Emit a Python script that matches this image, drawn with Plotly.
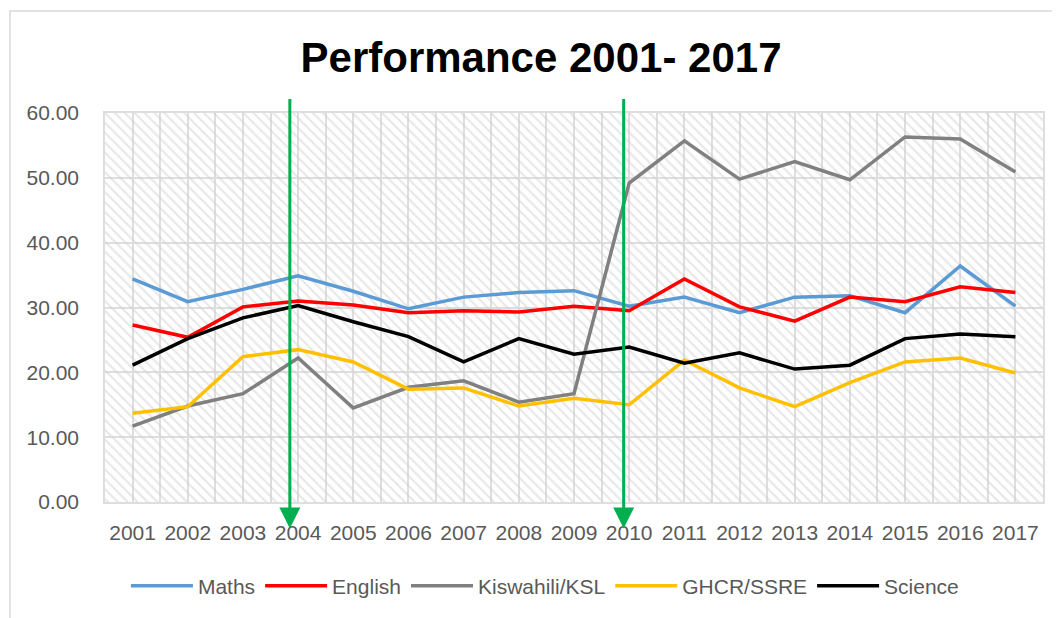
import plotly.graph_objects as go


YEARS = list(range(2001, 2018))

MATHS = [34.4, 30.9, 32.8, 34.9, 32.5, 29.8, 31.6, 32.3, 32.6, 30.2,
         31.6, 29.2, 31.6, 31.8, 29.2, 36.4, 30.2]
ENGLISH = [27.3, 25.4, 30.1, 31.0, 30.4, 29.2, 29.5, 29.3, 30.2, 29.5,
           34.4, 30.1, 27.9, 31.6, 30.9, 33.2, 32.3]
KISWAHILI = [11.7, 14.8, 16.7, 22.2, 14.5, 17.7, 18.7, 15.4, 16.7, 49.2,
             55.7, 49.8, 52.5, 49.7, 56.3, 56.0, 50.9]
GHCR = [13.7, 14.7, 22.4, 23.5, 21.6, 17.4, 17.6, 14.8, 16.0, 15.0,
        21.9, 17.6, 14.7, 18.4, 21.6, 22.2, 19.9]
SCIENCE = [21.1, 25.2, 28.4, 30.3, 27.8, 25.5, 21.6, 25.2, 22.8, 23.9,
           21.4, 23.0, 20.5, 21.1, 25.2, 25.9, 25.5]

SERIES = [
    ('Maths', MATHS, '#5B9BD5'),
    ('English', ENGLISH, '#FF0000'),
    ('Kiswahili/KSL', KISWAHILI, '#808080'),
    ('GHCR/SSRE', GHCR, '#FFC000'),
    ('Science', SCIENCE, '#000000'),
]

# the two green markers drawn over the chart
ARROW_YEARS = [2003.85, 2009.9]

Y_MAX = 60
FONT = 'Liberation Sans'
TEXT_COLOR = '#595959'
GRID = '#dedede'


fig = go.Figure()

# hatched plot-area background
fig.add_trace(go.Bar(
    x=YEARS, y=[Y_MAX] * len(YEARS), width=1,
    marker=dict(color='rgba(0,0,0,0)', line=dict(width=0),
                pattern=dict(shape='\\', fgcolor='#d0d0d0', size=7,
                             solidity=0.3, fillmode='overlay')),
    showlegend=False, hoverinfo='skip'
))

for name, values, color in SERIES:
    fig.add_trace(go.Scatter(x=YEARS, y=values, name=name, mode='lines',
                             line=dict(color=color, width=3.5)))

for xa in ARROW_YEARS:
    fig.add_annotation(x=xa, xref='x', y=-0.068, yref='paper',
                       ax=0, ay=-431, axref='pixel', ayref='pixel',
                       showarrow=True, arrowhead=2, arrowsize=1.4,
                       arrowwidth=3, arrowcolor='#00B050', text='')

# outer chart frame
fig.add_shape(type='rect', xref='paper', yref='paper',
              x0=-0.1013, x1=1.03, y0=-0.33, y1=1.262,
              line=dict(color='#d9d9d9', width=1.5), layer='below')

# page body adds an 8px offset, so the figure is 8px smaller than the window
fig.update_layout(
    width=1052, height=610,
    margin=dict(l=97, r=17, t=105, b=116),
    paper_bgcolor='white', plot_bgcolor='white',
    barmode='overlay', bargap=0,
    font=dict(family=FONT, color=TEXT_COLOR, size=21),
    title=dict(text='<b>Performance 2001- 2017</b>', x=0.5067, y=0.92,
               xref='container', yref='container',
               xanchor='center', yanchor='middle',
               font=dict(family=FONT, size=42, color='black')),
    legend=dict(orientation='h', x=0.469, xanchor='center',
                y=-0.216, yanchor='middle', itemwidth=62,
                font=dict(family=FONT, size=21, color=TEXT_COLOR)),
    xaxis=dict(range=[2000.5, 2017.5], tick0=2001, dtick=1,
               showgrid=True, gridcolor=GRID, gridwidth=1.5,
               minor=dict(dtick=0.5, showgrid=True, gridcolor=GRID, gridwidth=1.5),
               showline=True, linecolor=GRID, linewidth=1.5, mirror=True,
               ticks='', ticklabelstandoff=11, zeroline=False),
    yaxis=dict(range=[0, Y_MAX], dtick=10, tickformat='.2f',
               showgrid=True, gridcolor=GRID, gridwidth=1.5,
               showline=True, linecolor=GRID, linewidth=1.5, mirror=True,
               ticks='', ticklabelstandoff=20, zeroline=False)
)

fig.write_html('out.html')
